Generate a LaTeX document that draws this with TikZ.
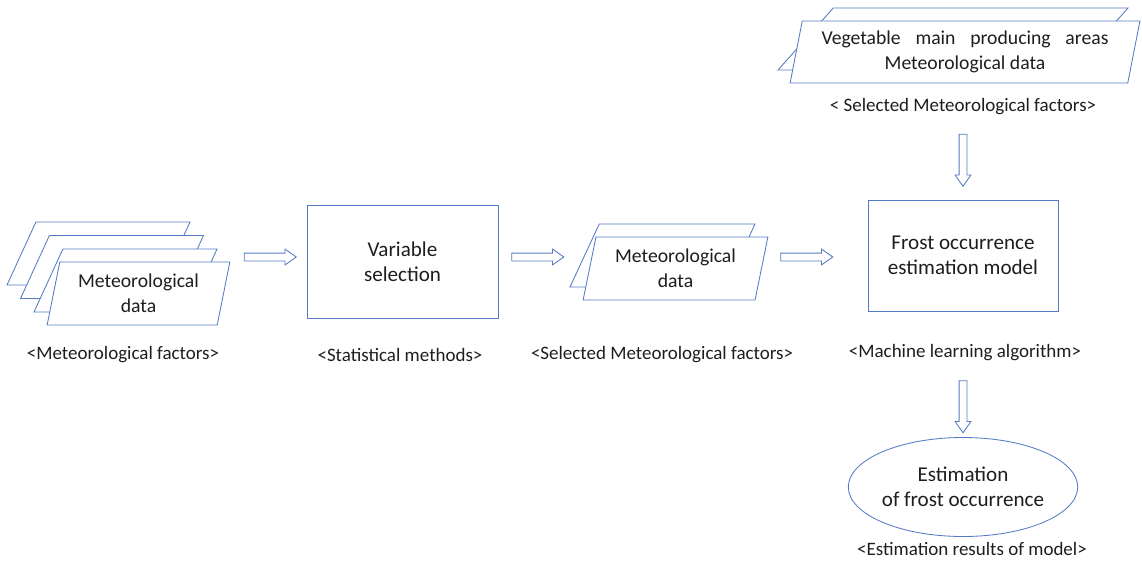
\documentclass[tikz,border=0pt]{standalone}
\usepackage{fontspec}
\setmainfont{Carlito}
\usepackage{tikz}
\usetikzlibrary{shapes.geometric, shapes.arrows}
\newlength{\px}
\setlength{\px}{0.025cm}
\definecolor{linea}{RGB}{84,122,196}
\definecolor{texto}{RGB}{30,30,30}
\tikzset{
  datos/.style={trapezium, trapezium left angle=77, trapezium right angle=103, trapezium stretches=true,
    draw=linea, fill=white, line width=0.6pt, inner sep=2pt, align=center, text=texto,
    font=\fontsize{14}{17.5}\selectfont},
  proceso/.style={rectangle, draw=linea, line width=0.6pt, align=center, text=texto,
    font=\fontsize{15}{17.5}\selectfont},
  etiqueta/.style={text=texto, inner sep=0pt, font=\fontsize{13.5}{16}\selectfont},
  flecha/.style={single arrow, draw=linea, fill=white, line width=0.6pt, inner xsep=0pt, inner ysep=3.5\px,
    minimum height=52\px, single arrow head extend=4\px, single arrow tip angle=70},
  flechabajo/.style={flecha, shape border rotate=270, inner xsep=3.5\px, inner ysep=0pt}
}
\begin{document}
\begin{tikzpicture}[x=0.025cm, y=-0.025cm]
  \useasboundingbox (0,0) rectangle (1142,566);
  % pila 1
  \node[datos, minimum width=183\px, minimum height=63\px] (met1d) at (98.5,253.5) {};
  \node[datos, minimum width=183\px, minimum height=63\px] (met1c) at (112,267) {};
  \node[datos, minimum width=183\px, minimum height=63\px] (met1b) at (125.5,280.5) {};
  \node[datos, minimum width=183\px, minimum height=63\px] (met1a) at (138.5,293.5) {Meteorological\\data};
  \node[etiqueta] (lab1) at (123,355) {<Meteorological factors>};
  % seleccion
  \node[proceso, minimum width=191\px, minimum height=113\px] (varsel) at (402.5,261.5) {Variable\\selection};
  \node[etiqueta] (lab2) at (400,355) {<Statistical methods>};
  % pila 2
  \node[datos, minimum width=185\px, minimum height=63\px] (met2b) at (662.5,255.5) {};
  \node[datos, minimum width=185\px, minimum height=63\px] (met2a) at (675.5,268.5) {Meteorological\\data};
  \node[etiqueta] (lab3) at (662,355) {<Selected Meteorological factors>};
  % modelo
  \node[proceso, minimum width=190\px, minimum height=111\px] (model) at (963,255.5) {Frost occurrence\\estimation model};
  \node[etiqueta] (lab4) at (965,353) {<Machine learning algorithm>};
  % pila superior
  \node[datos, minimum width=350\px, minimum height=62\px] (veg2) at (953,39) {};
  \node[datos, minimum width=350\px, minimum height=62\px] (veg1) at (965,52) {Vegetable\hspace{0.75em}main\hspace{0.75em}producing\hspace{0.75em}areas\\Meteorological data};
  \node[etiqueta] (lab5) at (963,107) {< Selected Meteorological factors>};
  % resultado
  \node[ellipse, draw=linea, line width=0.6pt, align=center, text=texto, font=\fontsize{15}{17.5}\selectfont,
    minimum width=223\px, minimum height=99\px, inner sep=0pt] (result) at (963,487) {Estimation\\of frost occurrence};
  \node[etiqueta] (lab6) at (972,549) {<Estimation results of model>};
  % flechas
  \node[flecha] (ar1) at (267.5,257) {};
  \node[flecha] (ar2) at (535,257) {};
  \node[flecha] (ar3) at (804,257) {};
  \node[flechabajo] (ar4) at (963,157.5) {};
  \node[flechabajo] (ar5) at (963,404) {};
\end{tikzpicture}
\end{document}
